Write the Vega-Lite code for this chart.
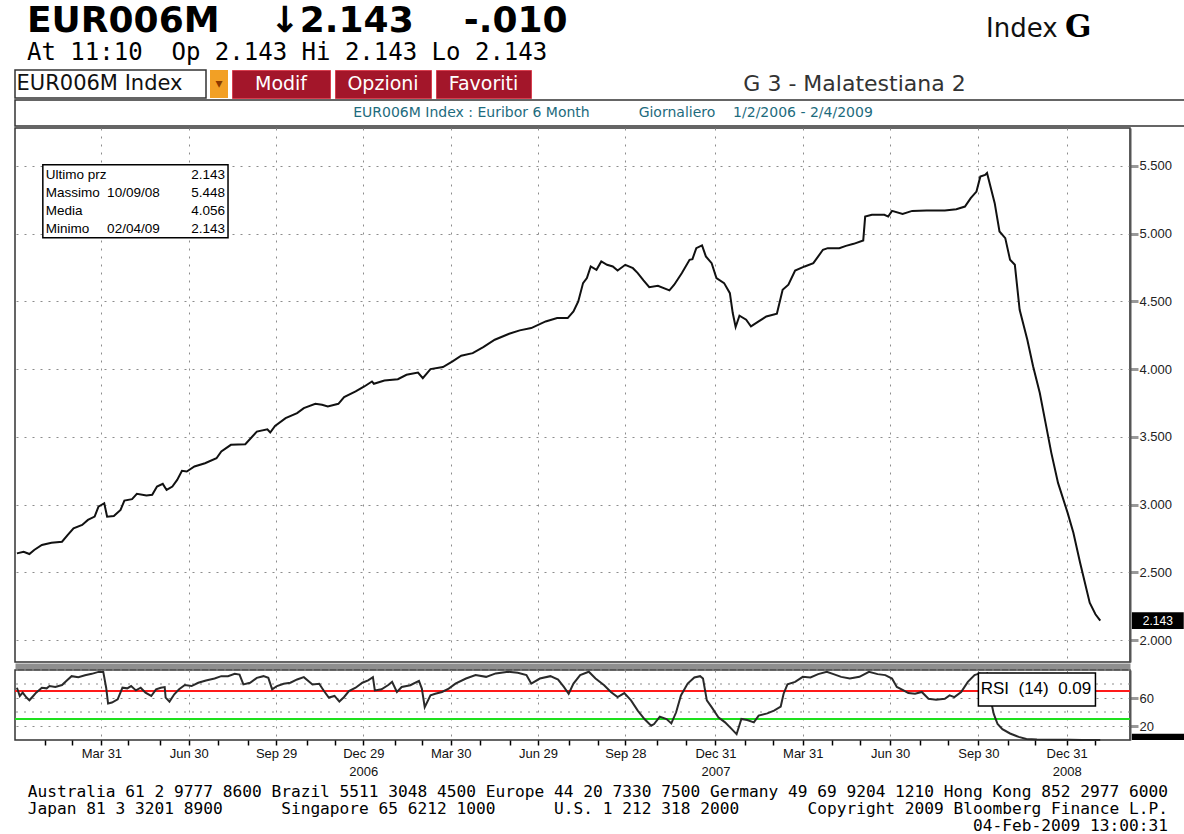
{
  "$schema": "https://vega.github.io/schema/vega-lite/v6.json",
  "background": "white",
  "padding": {"left": 12, "top": 2, "right": 0, "bottom": 0},
  "spacing": 0,
  "datasets": {
    "eur": [
      {"d":"2006-01-02","v":2.640},{"d":"2006-01-09","v":2.652},{"d":"2006-01-15","v":2.635},{"d":"2006-01-20","v":2.665},{"d":"2006-01-28","v":2.702},{"d":"2006-02-07","v":2.719},{"d":"2006-02-18","v":2.726},{"d":"2006-02-24","v":2.776},{"d":"2006-03-02","v":2.825},{"d":"2006-03-11","v":2.850},{"d":"2006-03-17","v":2.887},{"d":"2006-03-24","v":2.911},{"d":"2006-03-28","v":2.985},{"d":"2006-04-03","v":3.010},{"d":"2006-04-06","v":2.911},{"d":"2006-04-13","v":2.916},{"d":"2006-04-20","v":2.961},{"d":"2006-04-24","v":3.030},{"d":"2006-05-02","v":3.040},{"d":"2006-05-07","v":3.079},{"d":"2006-05-17","v":3.067},{"d":"2006-05-23","v":3.072},{"d":"2006-05-28","v":3.133},{"d":"2006-06-03","v":3.153},{"d":"2006-06-07","v":3.108},{"d":"2006-06-13","v":3.133},{"d":"2006-06-18","v":3.182},{"d":"2006-06-23","v":3.249},{"d":"2006-06-28","v":3.244},{"d":"2006-07-06","v":3.281},{"d":"2006-07-17","v":3.305},{"d":"2006-07-29","v":3.342},{"d":"2006-08-03","v":3.392},{"d":"2006-08-13","v":3.441},{"d":"2006-08-28","v":3.446},{"d":"2006-09-09","v":3.539},{"d":"2006-09-20","v":3.556},{"d":"2006-09-23","v":3.532},{"d":"2006-09-28","v":3.581},{"d":"2006-10-09","v":3.638},{"d":"2006-10-21","v":3.675},{"d":"2006-10-28","v":3.712},{"d":"2006-11-09","v":3.744},{"d":"2006-11-16","v":3.737},{"d":"2006-11-22","v":3.724},{"d":"2006-12-03","v":3.744},{"d":"2006-12-09","v":3.793},{"d":"2006-12-21","v":3.835},{"d":"2006-12-30","v":3.872},{"d":"2007-01-07","v":3.909},{"d":"2007-01-09","v":3.892},{"d":"2007-01-20","v":3.916},{"d":"2007-02-03","v":3.926},{"d":"2007-02-12","v":3.958},{"d":"2007-02-24","v":3.975},{"d":"2007-03-01","v":3.933},{"d":"2007-03-09","v":4.000},{"d":"2007-03-22","v":4.015},{"d":"2007-04-01","v":4.057},{"d":"2007-04-10","v":4.099},{"d":"2007-04-22","v":4.118},{"d":"2007-05-03","v":4.163},{"d":"2007-05-15","v":4.217},{"d":"2007-05-30","v":4.261},{"d":"2007-06-10","v":4.286},{"d":"2007-06-22","v":4.303},{"d":"2007-07-07","v":4.352},{"d":"2007-07-19","v":4.377},{"d":"2007-07-30","v":4.377},{"d":"2007-08-05","v":4.426},{"d":"2007-08-10","v":4.500},{"d":"2007-08-15","v":4.635},{"d":"2007-08-19","v":4.672},{"d":"2007-08-23","v":4.758},{"d":"2007-08-29","v":4.733},{"d":"2007-09-03","v":4.795},{"d":"2007-09-09","v":4.770},{"d":"2007-09-15","v":4.758},{"d":"2007-09-20","v":4.728},{"d":"2007-09-28","v":4.770},{"d":"2007-10-06","v":4.745},{"d":"2007-10-11","v":4.709},{"d":"2007-10-17","v":4.655},{"d":"2007-10-23","v":4.605},{"d":"2007-11-01","v":4.615},{"d":"2007-11-13","v":4.581},{"d":"2007-11-18","v":4.623},{"d":"2007-11-26","v":4.709},{"d":"2007-12-04","v":4.807},{"d":"2007-12-07","v":4.812},{"d":"2007-12-11","v":4.893},{"d":"2007-12-17","v":4.913},{"d":"2007-12-21","v":4.832},{"d":"2007-12-27","v":4.782},{"d":"2008-01-01","v":4.672},{"d":"2008-01-09","v":4.635},{"d":"2008-01-15","v":4.561},{"d":"2008-01-18","v":4.414},{"d":"2008-01-21","v":4.311},{"d":"2008-01-25","v":4.394},{"d":"2008-02-01","v":4.365},{"d":"2008-02-06","v":4.315},{"d":"2008-02-14","v":4.352},{"d":"2008-02-22","v":4.389},{"d":"2008-03-04","v":4.409},{"d":"2008-03-10","v":4.586},{"d":"2008-03-16","v":4.623},{"d":"2008-03-23","v":4.728},{"d":"2008-04-02","v":4.758},{"d":"2008-04-11","v":4.782},{"d":"2008-04-21","v":4.881},{"d":"2008-04-26","v":4.893},{"d":"2008-05-08","v":4.893},{"d":"2008-05-15","v":4.910},{"d":"2008-05-23","v":4.925},{"d":"2008-06-02","v":4.950},{"d":"2008-06-04","v":5.126},{"d":"2008-06-11","v":5.139},{"d":"2008-06-24","v":5.139},{"d":"2008-06-28","v":5.126},{"d":"2008-07-02","v":5.168},{"d":"2008-07-13","v":5.146},{"d":"2008-07-23","v":5.168},{"d":"2008-08-07","v":5.171},{"d":"2008-08-26","v":5.171},{"d":"2008-09-07","v":5.181},{"d":"2008-09-16","v":5.200},{"d":"2008-09-22","v":5.262},{"d":"2008-09-28","v":5.311},{"d":"2008-10-02","v":5.421},{"d":"2008-10-07","v":5.434},{"d":"2008-10-09","v":5.448},{"d":"2008-10-17","v":5.225},{"d":"2008-10-22","v":5.016},{"d":"2008-10-28","v":4.967},{"d":"2008-11-02","v":4.807},{"d":"2008-11-07","v":4.770},{"d":"2008-11-12","v":4.438},{"d":"2008-11-20","v":4.217},{"d":"2008-11-26","v":4.021},{"d":"2008-12-03","v":3.824},{"d":"2008-12-09","v":3.603},{"d":"2008-12-15","v":3.382},{"d":"2008-12-22","v":3.160},{"d":"2009-01-01","v":2.939},{"d":"2009-01-07","v":2.792},{"d":"2009-01-14","v":2.571},{"d":"2009-01-24","v":2.276},{"d":"2009-01-30","v":2.190},{"d":"2009-02-04","v":2.143}
    ],
    "rsi": [
      {"d":"2006-01-02","r":74.7},{"d":"2006-01-05","r":62.9},{"d":"2006-01-08","r":67.6},{"d":"2006-01-12","r":60.6},{"d":"2006-01-15","r":56.8},{"d":"2006-01-19","r":62.9},{"d":"2006-01-22","r":67.6},{"d":"2006-01-28","r":74.7},{"d":"2006-02-02","r":73.8},{"d":"2006-02-05","r":77.1},{"d":"2006-02-11","r":75.6},{"d":"2006-02-18","r":78.5},{"d":"2006-02-23","r":85.1},{"d":"2006-02-28","r":91.2},{"d":"2006-03-07","r":89.8},{"d":"2006-03-14","r":92.6},{"d":"2006-03-21","r":94.5},{"d":"2006-03-28","r":97.3},{"d":"2006-04-02","r":97.3},{"d":"2006-04-05","r":74.7},{"d":"2006-04-07","r":52.1},{"d":"2006-04-11","r":53.5},{"d":"2006-04-17","r":58.2},{"d":"2006-04-22","r":74.7},{"d":"2006-04-27","r":73.8},{"d":"2006-05-01","r":77.1},{"d":"2006-05-06","r":70.9},{"d":"2006-05-11","r":74.7},{"d":"2006-05-16","r":67.6},{"d":"2006-05-22","r":62.9},{"d":"2006-05-27","r":72.4},{"d":"2006-06-01","r":74.7},{"d":"2006-06-05","r":75.6},{"d":"2006-06-06","r":60.6},{"d":"2006-06-10","r":54.9},{"d":"2006-06-15","r":65.3},{"d":"2006-06-20","r":72.4},{"d":"2006-06-26","r":78.5},{"d":"2006-07-03","r":77.1},{"d":"2006-07-10","r":81.8},{"d":"2006-07-18","r":85.1},{"d":"2006-07-27","r":87.9},{"d":"2006-08-03","r":91.2},{"d":"2006-08-10","r":91.2},{"d":"2006-08-17","r":94.5},{"d":"2006-08-22","r":93.5},{"d":"2006-08-26","r":79.4},{"d":"2006-09-02","r":81.8},{"d":"2006-09-09","r":88.8},{"d":"2006-09-16","r":91.2},{"d":"2006-09-21","r":88.8},{"d":"2006-09-25","r":72.4},{"d":"2006-09-30","r":77.1},{"d":"2006-10-07","r":80.4},{"d":"2006-10-14","r":81.8},{"d":"2006-10-21","r":86.5},{"d":"2006-10-28","r":89.8},{"d":"2006-11-06","r":79.4},{"d":"2006-11-13","r":80.4},{"d":"2006-11-18","r":70.0},{"d":"2006-11-23","r":60.6},{"d":"2006-11-29","r":62.9},{"d":"2006-12-04","r":54.9},{"d":"2006-12-09","r":61.5},{"d":"2006-12-14","r":70.0},{"d":"2006-12-21","r":74.7},{"d":"2006-12-28","r":81.8},{"d":"2007-01-03","r":85.1},{"d":"2007-01-08","r":89.8},{"d":"2007-01-10","r":70.9},{"d":"2007-01-17","r":72.4},{"d":"2007-01-24","r":78.5},{"d":"2007-01-28","r":83.0},{"d":"2007-02-02","r":68.6},{"d":"2007-02-07","r":75.8},{"d":"2007-02-16","r":78.2},{"d":"2007-02-25","r":84.5},{"d":"2007-02-28","r":73.4},{"d":"2007-03-03","r":46.9},{"d":"2007-03-09","r":63.7},{"d":"2007-03-14","r":66.1},{"d":"2007-03-21","r":68.6},{"d":"2007-03-28","r":73.4},{"d":"2007-04-04","r":80.6},{"d":"2007-04-15","r":87.8},{"d":"2007-04-25","r":92.7},{"d":"2007-05-06","r":90.2},{"d":"2007-05-16","r":95.1},{"d":"2007-05-29","r":97.5},{"d":"2007-06-08","r":96.0},{"d":"2007-06-17","r":92.7},{"d":"2007-06-22","r":80.6},{"d":"2007-07-01","r":87.8},{"d":"2007-07-12","r":91.2},{"d":"2007-07-20","r":86.4},{"d":"2007-07-26","r":75.8},{"d":"2007-07-31","r":66.1},{"d":"2007-08-05","r":80.6},{"d":"2007-08-12","r":92.7},{"d":"2007-08-21","r":97.5},{"d":"2007-08-28","r":87.8},{"d":"2007-09-06","r":78.2},{"d":"2007-09-13","r":68.6},{"d":"2007-09-20","r":61.3},{"d":"2007-09-23","r":63.7},{"d":"2007-09-27","r":67.1},{"d":"2007-10-04","r":56.5},{"d":"2007-10-11","r":42.0},{"d":"2007-10-18","r":30.0},{"d":"2007-10-25","r":20.4},{"d":"2007-10-28","r":22.8},{"d":"2007-11-03","r":33.4},{"d":"2007-11-10","r":30.0},{"d":"2007-11-15","r":23.7},{"d":"2007-11-20","r":39.6},{"d":"2007-11-25","r":63.7},{"d":"2007-12-02","r":80.6},{"d":"2007-12-09","r":89.3},{"d":"2007-12-15","r":91.2},{"d":"2007-12-18","r":87.8},{"d":"2007-12-22","r":56.5},{"d":"2007-12-27","r":46.9},{"d":"2008-01-03","r":32.4},{"d":"2008-01-10","r":25.2},{"d":"2008-01-17","r":15.5},{"d":"2008-01-22","r":8.3},{"d":"2008-01-27","r":30.0},{"d":"2008-02-02","r":28.6},{"d":"2008-02-09","r":25.2},{"d":"2008-02-14","r":34.8},{"d":"2008-02-23","r":38.0},{"d":"2008-03-01","r":42.0},{"d":"2008-03-08","r":47.8},{"d":"2008-03-11","r":66.1},{"d":"2008-03-15","r":79.6},{"d":"2008-03-23","r":83.0},{"d":"2008-03-31","r":90.2},{"d":"2008-04-08","r":89.3},{"d":"2008-04-16","r":94.1},{"d":"2008-04-25","r":97.5},{"d":"2008-05-02","r":94.1},{"d":"2008-05-10","r":90.2},{"d":"2008-05-19","r":87.8},{"d":"2008-05-29","r":90.2},{"d":"2008-06-08","r":97.5},{"d":"2008-06-17","r":94.1},{"d":"2008-06-25","r":92.7},{"d":"2008-07-02","r":87.8},{"d":"2008-07-07","r":75.8},{"d":"2008-07-14","r":71.0},{"d":"2008-07-19","r":67.1},{"d":"2008-07-26","r":66.1},{"d":"2008-08-02","r":68.6},{"d":"2008-08-09","r":58.9},{"d":"2008-08-17","r":57.5},{"d":"2008-08-26","r":58.9},{"d":"2008-08-31","r":63.7},{"d":"2008-09-05","r":61.3},{"d":"2008-09-12","r":68.6},{"d":"2008-09-19","r":83.0},{"d":"2008-09-26","r":92.7},{"d":"2008-10-01","r":95.1},{"d":"2008-10-06","r":93.0},{"d":"2008-10-09","r":95.0},{"d":"2008-10-13","r":56.5},{"d":"2008-10-16","r":37.2},{"d":"2008-10-20","r":22.8},{"d":"2008-10-25","r":15.5},{"d":"2008-11-02","r":9.3},{"d":"2008-11-11","r":4.5},{"d":"2008-11-19","r":1.5},{"d":"2008-11-30","r":0.6},{"d":"2008-12-17","r":0.3},{"d":"2009-01-03","r":0.2},{"d":"2009-01-16","r":0.1},{"d":"2009-02-04","r":0.09}
    ],
    "stats": [
      {"label":"Ultimo prz","date":"","value":"2.143"},
      {"label":"Massimo","date":"10/09/08","value":"5.448"},
      {"label":"Media","date":"","value":"4.056"},
      {"label":"Minimo","date":"02/04/09","value":"2.143"}
    ]
  },
  "vconcat": [
    {
      "spacing": 0,
      "hconcat": [
        {
          "width": 971, "height": 1,
          "data": {"values": [{}]},
          "mark": {"type": "text"},
          "encoding": {"text": {"value": ""}},
          "title": {
            "text": "EUR006M\u00a0\u00a0\u00a0\u00a0\u21932.143\u00a0\u00a0\u00a0\u00a0-.010",
            "subtitle": "At 11:10\u00a0\u00a0Op 2.143 Hi 2.143 Lo 2.143",
            "anchor": "start", "frame": "group", "dx": 12,
            "font": "DejaVu Sans", "fontSize": 36, "fontWeight": "bold", "color": "#000",
            "subtitleFont": "DejaVu Sans Mono", "subtitleFontSize": 24, "subtitleColor": "#000",
            "subtitlePadding": 1, "offset": -8
          }
        },
        {
          "width": 79, "height": 1,
          "data": {"values": [{}]},
          "mark": {"type": "text"},
          "encoding": {"text": {"value": ""}},
          "title": {"text": "Index", "anchor": "start", "frame": "group", "font": "DejaVu Sans", "fontSize": 26, "fontWeight": "normal", "color": "#111", "offset": 16}
        },
        {
          "width": 40, "height": 1,
          "data": {"values": [{}]},
          "mark": {"type": "text"},
          "encoding": {"text": {"value": ""}},
          "title": {"text": "G", "anchor": "start", "frame": "group", "font": "DejaVu Serif", "fontSize": 31, "fontWeight": "bold", "color": "#000", "offset": 14}
        }
      ]
    },
    {
      "spacing": 3,
      "hconcat": [
        {
          "width": 191, "height": 28,
          "view": {"fill": "white", "stroke": "#333", "strokeWidth": 1.5},
          "data": {"values": [{"t": "EUR006M Index"}]},
          "mark": {"type": "text", "font": "DejaVu Sans", "fontSize": 21, "color": "#111", "baseline": "middle", "dx": -11},
          "encoding": {"text": {"field": "t"}}
        },
        {
          "width": 18, "height": 28,
          "view": {"fill": "#f2a025", "stroke": null},
          "data": {"values": [{"t": "\u25be"}]},
          "mark": {"type": "text", "font": "DejaVu Sans", "fontSize": 14, "color": "#8a3a00", "baseline": "middle"},
          "encoding": {"text": {"field": "t"}}
        },
        {
          "width": 98, "height": 28,
          "view": {"fill": "#a3162a", "stroke": "#d8404f", "strokeWidth": 1},
          "data": {"values": [{"t": "Modif"}]},
          "mark": {"type": "text", "font": "DejaVu Sans", "fontSize": 19, "color": "white", "baseline": "middle"},
          "encoding": {"text": {"field": "t"}}
        },
        {
          "width": 96, "height": 28,
          "view": {"fill": "#a3162a", "stroke": "#d8404f", "strokeWidth": 1},
          "data": {"values": [{"t": "Opzioni"}]},
          "mark": {"type": "text", "font": "DejaVu Sans", "fontSize": 19, "color": "white", "baseline": "middle"},
          "encoding": {"text": {"field": "t"}}
        },
        {
          "width": 95, "height": 28,
          "view": {"fill": "#a3162a", "stroke": "#d8404f", "strokeWidth": 1},
          "data": {"values": [{"t": "Favoriti"}]},
          "mark": {"type": "text", "font": "DejaVu Sans", "fontSize": 19, "color": "white", "baseline": "middle"},
          "encoding": {"text": {"field": "t"}}
        },
        {
          "width": 659, "height": 28,
          "view": {"stroke": null},
          "data": {"values": [{"t": "G 3 - Malatestiana 2"}]},
          "mark": {"type": "text", "font": "DejaVu Sans", "fontSize": 22, "color": "#333", "baseline": "middle", "dx": -10},
          "encoding": {"text": {"field": "t"}}
        }
      ]
    },
    {
      "width": 1172, "height": 26,
      "view": {"fill": "white", "stroke": "#333", "strokeWidth": 1.5},
      "data": {"values": [{"t": "EUR006M Index : Euribor 6 Month\u00a0\u00a0\u00a0\u00a0\u00a0\u00a0\u00a0\u00a0\u00a0\u00a0\u00a0Giornaliero\u00a0\u00a0\u00a0\u00a01/2/2006 - 2/4/2009"}]},
      "mark": {"type": "text", "font": "DejaVu Sans", "fontSize": 14, "color": "#1d6b7d", "baseline": "middle", "dx": 12},
      "encoding": {"text": {"field": "t"}}
    },
    {
      "width": 1115, "height": 534,
      "view": {"fill": "white", "stroke": "#333", "strokeWidth": 1.5},
      "layer": [
        {
          "layer": [
            {
              "data": {"name": "eur"},
              "mark": {"type": "line", "color": "#111", "strokeWidth": 2},
              "encoding": {
                "x": {
                  "field": "d", "type": "temporal", "title": null,
                  "scale": {"type": "utc", "nice": false, "domain": [{"year": 2005, "month": 12, "date": 31, "utc": true}, {"year": 2009, "month": 3, "date": 7, "utc": true}]},
                  "axis": {
                    "orient": "bottom", "labels": false, "ticks": false,
                    "values": [{"year":2006,"month":3,"date":31,"utc":true},{"year":2006,"month":6,"date":30,"utc":true},{"year":2006,"month":9,"date":29,"utc":true},{"year":2006,"month":12,"date":29,"utc":true},{"year":2007,"month":3,"date":30,"utc":true},{"year":2007,"month":6,"date":29,"utc":true},{"year":2007,"month":9,"date":28,"utc":true},{"year":2007,"month":12,"date":31,"utc":true},{"year":2008,"month":3,"date":31,"utc":true},{"year":2008,"month":6,"date":30,"utc":true},{"year":2008,"month":9,"date":30,"utc":true},{"year":2008,"month":12,"date":31,"utc":true}],
                    "grid": true, "gridColor": "#8c8c8c", "gridDash": [2, 6], "gridWidth": 1,
                    "domainColor": "#8f8f8f", "domainWidth": 6, "offset": 4
                  }
                },
                "y": {
                  "field": "v", "type": "quantitative", "title": null,
                  "scale": {"domain": [1.838, 5.78], "nice": false, "zero": false},
                  "axis": {
                    "orient": "right", "values": [2, 2.5, 3, 3.5, 4, 4.5, 5, 5.5], "format": ".3f",
                    "grid": true, "gridColor": "#8c8c8c", "gridDash": [2, 6], "gridWidth": 1,
                    "domainColor": "#555", "domainWidth": 2,
                    "tickColor": "#999", "tickSize": 8, "tickWidth": 3,
                    "labelFont": "Liberation Sans", "labelFontSize": 13, "labelColor": "#222", "labelPadding": 1
                  }
                }
              }
            },
            {
              "data": {"values": [{}]},
              "mark": {"type": "rect", "fill": "white", "stroke": "#000", "strokeWidth": 1.5},
              "encoding": {
                "x": {"datum": {"year": 2006, "month": 1, "date": 29, "utc": true}, "type": "temporal"},
                "x2": {"datum": {"year": 2006, "month": 8, "date": 10, "utc": true}},
                "y": {"datum": 5.508, "type": "quantitative"},
                "y2": {"datum": 4.969}
              }
            },
            {
              "data": {"values": [{}]},
              "mark": {"type": "rect", "fill": "#000"},
              "encoding": {
                "x": {"datum": {"year": 2009, "month": 3, "date": 9, "utc": true}, "type": "temporal"},
                "x2": {"datum": {"year": 2009, "month": 5, "date": 2, "utc": true}},
                "y": {"datum": 2.205, "type": "quantitative"},
                "y2": {"datum": 2.081}
              }
            },
            {
              "data": {"values": [{"t": "2.143"}]},
              "mark": {"type": "text", "color": "white", "font": "Liberation Sans", "fontSize": 12, "baseline": "middle"},
              "encoding": {
                "x": {"datum": {"year": 2009, "month": 4, "date": 5, "utc": true}, "type": "temporal"},
                "y": {"datum": 2.143, "type": "quantitative"},
                "text": {"field": "t"}
              }
            }
          ]
        },
        {
          "data": {"name": "stats"},
          "encoding": {
            "y": {"field": "label", "type": "nominal", "axis": null, "scale": {"type": "point", "padding": 0, "domain": ["Ultimo prz", "Massimo", "Media", "Minimo"], "range": [47, 101]}}
          },
          "layer": [
            {
              "mark": {"type": "text", "align": "left", "baseline": "middle", "font": "Liberation Sans", "fontSize": 13.5, "color": "#000"},
              "encoding": {"x": {"datum": {"year": 2006, "month": 2, "date": 1, "utc": true}, "type": "temporal"}, "text": {"field": "label"}}
            },
            {
              "mark": {"type": "text", "align": "left", "baseline": "middle", "font": "Liberation Sans", "fontSize": 13.5, "color": "#000"},
              "encoding": {"x": {"datum": {"year": 2006, "month": 4, "date": 6, "utc": true}, "type": "temporal"}, "text": {"field": "date"}}
            },
            {
              "mark": {"type": "text", "align": "right", "baseline": "middle", "font": "Liberation Sans", "fontSize": 13.5, "color": "#000"},
              "encoding": {"x": {"datum": {"year": 2006, "month": 8, "date": 7, "utc": true}, "type": "temporal"}, "text": {"field": "value"}}
            }
          ]
        }
      ],
      "resolve": {"scale": {"y": "independent"}, "axis": {"y": "independent"}}
    },
    {
      "width": 1115, "height": 70,
      "view": {"fill": "white", "stroke": "#333", "strokeWidth": 1.5},
      "title": {
        "text": [
          "Australia 61 2 9777 8600 Brazil 5511 3048 4500 Europe 44 20 7330 7500 Germany 49 69 9204 1210 Hong Kong 852 2977 6000",
          "Japan 81 3 3201 8900\u00a0\u00a0\u00a0\u00a0\u00a0\u00a0Singapore 65 6212 1000\u00a0\u00a0\u00a0\u00a0\u00a0\u00a0U.S. 1 212 318 2000\u00a0\u00a0\u00a0\u00a0\u00a0\u00a0\u00a0Copyright 2009 Bloomberg Finance L.P.",
          "04-Feb-2009 13:00:31"
        ],
        "orient": "bottom", "anchor": "end", "frame": "group",
        "font": "DejaVu Sans Mono", "fontSize": 16.2, "fontWeight": "normal", "color": "#000",
        "lineHeight": 17, "offset": 6, "dx": 38
      },
      "layer": [
        {
          "data": {"values": [{}]},
          "mark": {"type": "rule", "color": "#8c8c8c", "strokeWidth": 1, "strokeDash": [2, 6]},
          "encoding": {"y": {"datum": 40, "type": "quantitative"}}
        },
        {
          "data": {"values": [{}]},
          "mark": {"type": "rule", "color": "#8c8c8c", "strokeWidth": 1, "strokeDash": [2, 6]},
          "encoding": {"y": {"datum": 80, "type": "quantitative"}}
        },
        {
          "data": {"values": [{}]},
          "mark": {"type": "rule", "color": "#8c8c8c", "strokeWidth": 1, "strokeDash": [2, 6]},
          "encoding": {"y": {"datum": 100, "type": "quantitative"}}
        },
        {
          "data": {"values": [{}]},
          "mark": {"type": "rule", "color": "#ff1a1a", "strokeWidth": 2},
          "encoding": {"y": {"datum": 70, "type": "quantitative"}}
        },
        {
          "data": {"values": [{}]},
          "mark": {"type": "rule", "color": "#1ee01e", "strokeWidth": 2},
          "encoding": {"y": {"datum": 30, "type": "quantitative"}}
        },
        {
          "data": {"name": "rsi"},
          "mark": {"type": "line", "opacity": 0},
          "encoding": {
            "x": {
              "field": "d", "type": "temporal", "title": null,
              "axis": {
                "orient": "bottom", "labels": false, "grid": false, "domain": false,
                "ticks": true, "tickSize": 5, "tickColor": "#000", "tickWidth": 1.5,
                "values": [{"year":2006,"month":1,"date":31,"utc":true},{"year":2006,"month":2,"date":28,"utc":true},{"year":2006,"month":4,"date":28,"utc":true},{"year":2006,"month":5,"date":31,"utc":true},{"year":2006,"month":7,"date":31,"utc":true},{"year":2006,"month":8,"date":31,"utc":true},{"year":2006,"month":10,"date":31,"utc":true},{"year":2006,"month":11,"date":30,"utc":true},{"year":2007,"month":1,"date":31,"utc":true},{"year":2007,"month":2,"date":28,"utc":true},{"year":2007,"month":4,"date":30,"utc":true},{"year":2007,"month":5,"date":31,"utc":true},{"year":2007,"month":7,"date":31,"utc":true},{"year":2007,"month":8,"date":31,"utc":true},{"year":2007,"month":10,"date":31,"utc":true},{"year":2007,"month":11,"date":30,"utc":true},{"year":2008,"month":1,"date":31,"utc":true},{"year":2008,"month":2,"date":29,"utc":true},{"year":2008,"month":4,"date":30,"utc":true},{"year":2008,"month":5,"date":30,"utc":true},{"year":2008,"month":7,"date":31,"utc":true},{"year":2008,"month":8,"date":29,"utc":true},{"year":2008,"month":10,"date":31,"utc":true},{"year":2008,"month":11,"date":28,"utc":true},{"year":2009,"month":1,"date":30,"utc":true}]
              }
            },
            "y": {"field": "r", "type": "quantitative"}
          }
        },
        {
          "data": {"name": "rsi"},
          "mark": {"type": "line", "color": "#2a2a2a", "strokeWidth": 2},
          "encoding": {
            "x": {
              "field": "d", "type": "temporal", "title": null,
              "scale": {"type": "utc", "nice": false, "domain": [{"year": 2005, "month": 12, "date": 31, "utc": true}, {"year": 2009, "month": 3, "date": 7, "utc": true}]},
              "axis": {
                "orient": "bottom",
                "values": [{"year":2006,"month":3,"date":31,"utc":true},{"year":2006,"month":6,"date":30,"utc":true},{"year":2006,"month":9,"date":29,"utc":true},{"year":2006,"month":12,"date":29,"utc":true},{"year":2007,"month":3,"date":30,"utc":true},{"year":2007,"month":6,"date":29,"utc":true},{"year":2007,"month":9,"date":28,"utc":true},{"year":2007,"month":12,"date":31,"utc":true},{"year":2008,"month":3,"date":31,"utc":true},{"year":2008,"month":6,"date":30,"utc":true},{"year":2008,"month":9,"date":30,"utc":true},{"year":2008,"month":12,"date":31,"utc":true}],
                "labelExpr": "utcmonth(datum.value) == 11 ? [utcFormat(datum.value, '%b %d'), utcFormat(datum.value, '%Y')] : utcFormat(datum.value, '%b %d')",
                "labelOverlap": false, "labelFlush": false,
                "labelFont": "Liberation Sans", "labelFontSize": 13, "labelColor": "#111", "labelPadding": 2, "labelLineHeight": 18,
                "ticks": true, "tickSize": 5, "tickColor": "#000", "tickWidth": 1.5,
                "domain": false,
                "grid": true, "gridColor": "#8c8c8c", "gridDash": [2, 6], "gridWidth": 1
              }
            },
            "y": {
              "field": "r", "type": "quantitative", "title": null,
              "scale": {"domain": [0, 100], "nice": false},
              "axis": {
                "orient": "right", "values": [20, 60],
                "grid": true, "gridColor": "#8c8c8c", "gridDash": [2, 6], "gridWidth": 1,
                "domainColor": "#555", "domainWidth": 2, "labelOverlap": false,
                "tickColor": "#999", "tickSize": 8, "tickWidth": 3,
                "labelFont": "Liberation Sans", "labelFontSize": 13, "labelColor": "#222", "labelPadding": 1
              }
            }
          }
        },
        {
          "data": {"values": [{}]},
          "mark": {"type": "rect", "fill": "white", "stroke": "#000", "strokeWidth": 1.5},
          "encoding": {
            "x": {"datum": {"year": 2008, "month": 9, "date": 30, "utc": true}, "type": "temporal", "axis": null},
            "x2": {"datum": {"year": 2009, "month": 1, "date": 30, "utc": true}},
            "y": {"datum": 95.7, "type": "quantitative"},
            "y2": {"datum": 48.6}
          }
        },
        {
          "data": {"values": [{"t": "RSI\u00a0\u00a0(14)\u00a0\u00a00.09"}]},
          "mark": {"type": "text", "font": "Liberation Sans", "fontSize": 17, "color": "#000", "baseline": "middle"},
          "encoding": {
            "x": {"datum": {"year": 2008, "month": 11, "date": 29, "utc": true}, "type": "temporal", "axis": null},
            "y": {"datum": 73, "type": "quantitative"},
            "text": {"field": "t"}
          }
        },
        {
          "data": {"values": [{}]},
          "mark": {"type": "rect", "fill": "#000"},
          "encoding": {
            "x": {"datum": {"year": 2009, "month": 3, "date": 9, "utc": true}, "type": "temporal", "axis": null},
            "x2": {"datum": {"year": 2009, "month": 5, "date": 5, "utc": true}},
            "y": {"datum": 9, "type": "quantitative"},
            "y2": {"datum": 0}
          }
        }
      ],
      "resolve": {"axis": {"x": "independent"}}
    }
  ],
  "resolve": {"scale": {"x": "independent", "y": "independent"}},
  "config": {
    "font": "Liberation Sans",
    "view": {"stroke": null},
    "axis": {"labelFont": "Liberation Sans", "titleFont": "Liberation Sans"}
  }
}
